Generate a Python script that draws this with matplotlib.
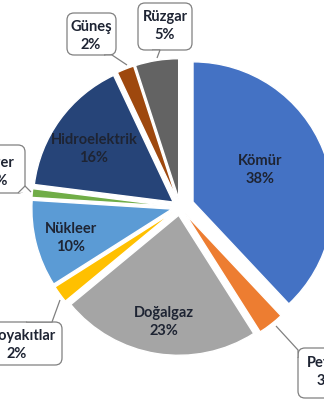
import matplotlib
matplotlib.use("Agg")
import matplotlib.pyplot as plt
from matplotlib.patches import FancyBboxPatch, Polygon

# ---- data ----
categories = ["Kömür", "Petrol", "Doğalgaz", "Biyoyakıtlar", "Nükleer",
              "Diğer", "Hidroelektrik", "Güneş", "Rüzgar"]
values = [38, 3, 23, 2, 10, 1, 16, 2, 5]
colors = ["#4472C4", "#ED7D31", "#A5A5A5", "#FFC000", "#5B9BD5",
          "#70AD47", "#264478", "#9E480E", "#636363"]
explode = [0.10, 0.06, 0.06, 0.06, 0.06, 0.06, 0.06, 0.06, 0.06]

# ---- layout (pixel coords, origin top-left) ----
W, H = 324, 400
CX, CY, R = 180, 207, 140

def P(px, py):
    return ((px - CX) / R, (CY - py) / R)

fig = plt.figure(figsize=(W / 100, H / 100), dpi=100)
ax = fig.add_axes([0, 0, 1, 1])
ax.pie(values, colors=colors, startangle=90, counterclock=False,
       explode=explode, radius=1, center=(0, 0),
       wedgeprops=dict(edgecolor="white", linewidth=1))
ax.set_aspect("equal")
ax.set_xlim(P(0, 0)[0], P(W, 0)[0])
ax.set_ylim(P(0, H)[1], P(0, 0)[1])
ax.axis("off")

txt_color = "#1E2433"
font = dict(family=["Lato", "DejaVu Sans"], fontweight="bold", fontsize=10.5,
            color=txt_color, ha="center", va="center", linespacing=1.3)

# inside labels: index -> text center
inside = {0: (260, 170), 2: (164, 322), 4: (71, 238), 6: (94, 149)}
for i, (px, py) in inside.items():
    ax.text(*P(px, py), f"{categories[i]}\n{values[i]}%", zorder=5, **font)

# callout labels: index -> (box x0, y0, x1, y1), text center, pointer polygon
callouts = {
    7: ((67, 13, 116, 55), (91, 36), [(104, 55), (112, 55), (127, 65)]),
    8: ((138, 3, 192, 50), (165, 26), [(152, 50), (160, 50), (157, 58)]),
    5: ((-40, 145, 25, 193), (-3, 172), [(18, 193), (25, 186), (31, 192)]),
    3: ((-30, 322, 62, 365), (17, 345), [(26, 322), (52, 322), (60, 300)]),
    1: ((298, 348, 360, 398), (327, 372), [(298, 358), (298, 350), (276, 326)]),
}
edge = "#808080"
for i, (box, tc, ptr) in callouts.items():
    x0, y0, x1, y1 = box
    bl = P(x0, y1)
    tr = P(x1, y0)
    patch = FancyBboxPatch(bl, tr[0] - bl[0], tr[1] - bl[1],
                           boxstyle="round,pad=0,rounding_size=0.05",
                           facecolor="white", edgecolor=edge, linewidth=0.9,
                           zorder=6)
    ax.add_patch(patch)
    base = Polygon([P(*p) for p in ptr], closed=True, facecolor="white",
                   edgecolor="none", zorder=6.5)
    ax.add_patch(base)
    outline = Polygon([P(*p) for p in ptr], closed=False, facecolor="none",
                      edgecolor=edge, linewidth=0.9, zorder=6.6)
    ax.add_patch(outline)
    ax.text(*P(*tc), f"{categories[i]}\n{values[i]}%", zorder=7, **font)

fig.savefig("out.png", dpi=100)
